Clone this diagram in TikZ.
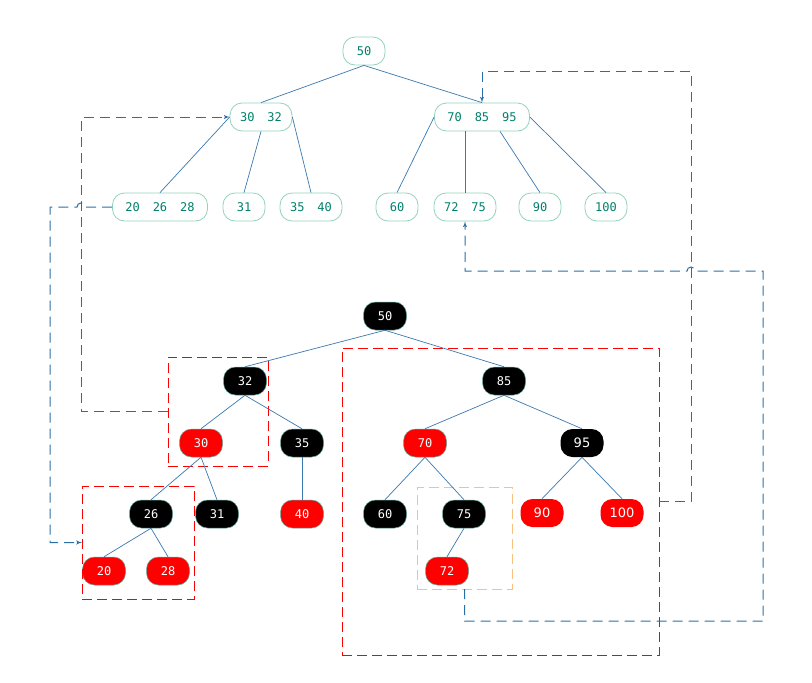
\documentclass[tikz,border=0pt]{standalone}
\usepackage{xcolor}
\usepackage{fontspec}
\setmonofont{DejaVu Sans Mono}
\newfontfamily\widefont{DejaVu Sans}
\usepackage{tikz}
\usetikzlibrary{arrows, positioning}
\definecolor{edgeblue}{HTML}{3A78B0}
\definecolor{linkblue}{HTML}{2A6EA6}
\definecolor{keyteal}{HTML}{007F6A}
\definecolor{keyline}{HTML}{93D3BE}
\definecolor{rbline}{HTML}{62A89A}
\definecolor{boxorange}{HTML}{F8C27E}
\tikzstyle{bnode} = [rectangle, rounded corners=12pt, minimum width=42pt, minimum height=28pt, inner xsep=10pt, draw=keyline, line width=0.8pt, text=keyteal, font=\ttfamily\fontsize{12}{14}\selectfont]
\tikzstyle{blacknode} = [rectangle, rounded corners=12pt, minimum width=43pt, minimum height=28pt, draw=rbline, line width=0.5pt, fill=black, text=white, font=\ttfamily\fontsize{12}{14}\selectfont]
\tikzstyle{rednode} = [blacknode, fill=red]
\tikzstyle{treeline} = [draw, edgeblue, line width=0.7pt]
\tikzstyle{moveline} = [draw, linkblue, line width=1pt, dash pattern=on 10pt off 6pt, -latex']
\tikzstyle{redbox} = [rectangle, draw=red, line width=0.9pt, dash pattern=on 10pt off 5pt, inner sep=0pt, outer sep=0pt]
\newcommand{\keygap}{\hspace{13pt}}

\begin{document}
\begin{tikzpicture}[x=1pt, y=-1pt, node distance=66pt]
    \useasboundingbox (0,0) rectangle (812,683);

    % B-tree nodes
    \node [bnode] (b50) at (364,51) {50};
    \node [bnode, below of=b50, xshift=-103pt] (b3032) {30\keygap 32};
    \node [bnode, below of=b50, xshift=118pt, minimum width=95pt] (b708595) {70\keygap 85\keygap 95};
    \node [bnode, below of=b3032, node distance=90pt, xshift=-101pt, minimum width=95pt] (b202628) {20\keygap 26\keygap 28};
    \node [bnode, below of=b3032, node distance=90pt, xshift=-17pt] (b31) {31};
    \node [bnode, below of=b3032, node distance=90pt, xshift=50pt] (b3540) {35\keygap 40};
    \node [bnode, below of=b708595, node distance=90pt, xshift=-85pt] (b60) {60};
    \node [bnode, below of=b708595, node distance=90pt, xshift=-17pt] (b7275) {72\keygap 75};
    \node [bnode, below of=b708595, node distance=90pt, xshift=58pt] (b90) {90};
    \node [bnode, below of=b708595, node distance=90pt, xshift=124pt] (b100) {100};

    % red-black nodes
    \node [blacknode] (r50) at (385,316) {50};
    \node [blacknode, below of=r50, node distance=65pt, xshift=-140pt] (r32) {32};
    \node [blacknode, below of=r50, node distance=65pt, xshift=119pt] (r85) {85};
    \node [rednode, below of=r32, node distance=62pt, xshift=-44pt] (r30) {30};
    \node [blacknode, below of=r32, node distance=62pt, xshift=57pt] (r35) {35};
    \node [rednode, below of=r85, node distance=62pt, xshift=-79pt] (r70) {70};
    \node [blacknode, below of=r85, node distance=62pt, xshift=78pt, draw=none, font=\widefont\fontsize{13}{15}\selectfont] (r95) {95};
    \node [blacknode, below of=r30, node distance=71pt, xshift=-50pt] (r26) {26};
    \node [blacknode, below of=r30, node distance=71pt, xshift=16pt] (r31) {31};
    \node [rednode, below of=r35, node distance=71pt] (r40) {40};
    \node [blacknode, below of=r70, node distance=71pt, xshift=-40pt] (r60) {60};
    \node [blacknode, below of=r70, node distance=71pt, xshift=39pt] (r75) {75};
    \node [rednode, below of=r95, node distance=70pt, xshift=-40pt, draw=none, font=\widefont\fontsize{13}{15}\selectfont] (r90) {90};
    \node [rednode, below of=r95, node distance=70pt, xshift=40pt, draw=none, font=\widefont\fontsize{13}{15}\selectfont] (r100) {100};
    \node [rednode, below of=r26, node distance=57pt, xshift=-47pt] (r20) {20};
    \node [rednode, below of=r26, node distance=57pt, xshift=17pt] (r28) {28};
    \node [rednode, below of=r75, node distance=57pt, xshift=-17pt] (r72) {72};

    % dashed groups
    \node [redbox, minimum width=100pt, minimum height=109pt] (g3032) at (218,411.5) {};
    \node [redbox, minimum width=112pt, minimum height=113pt] (g202628) at (138,542.5) {};
    \node [redbox, minimum width=317pt, minimum height=307pt] (g708595) at (500.5,501.5) {};
    \node [redbox, draw=boxorange, minimum width=95pt, minimum height=102pt] (g7275) at (464.5,538) {};

    % B-tree edges
    \path [treeline] (b50.south) -- (b3032.north);
    \path [treeline] (b50.south) -- (b708595.north);
    \path [treeline] (b202628.north) -- (b3032.west);
    \path [treeline] (b31.north) -- (b3032.south);
    \path [treeline] (b3540.north) -- (b3032.east);
    \path [treeline] (b60.north) -- (b708595.west);
    \path [treeline] (b7275.north) -- (b7275.north |- b708595.south);
    \path [treeline] (b90.north) -- ([xshift=18pt]b708595.south);
    \path [treeline] (b100.north) -- (b708595.east);

    % red-black edges
    \path [treeline] (r50.south) -- (r32.north);
    \path [treeline] (r50.south) -- (r85.north);
    \path [treeline] (r32.south) -- (r30.north);
    \path [treeline] (r32.south) -- (r35.north);
    \path [treeline] (r85.south) -- (r70.north);
    \path [treeline] (r85.south) -- (r95.north);
    \path [treeline] (r30.south) -- (r26.north);
    \path [treeline] (r30.south) -- (r31.north);
    \path [treeline] (r35.south) -- (r40.north);
    \path [treeline] (r70.south) -- (r60.north);
    \path [treeline] (r70.south) -- (r75.north);
    \path [treeline] (r95.south) -- (r90.north);
    \path [treeline] (r95.south) -- (r100.north);
    \path [treeline] (r26.south) -- (r20.north);
    \path [treeline] (r26.south) -- (r28.north);
    \path [treeline] (r75.south) -- (r72.north);

    % group moves
    \path [moveline] (g3032.west) -- ++(-87pt,0) |- (b3032.west);
    \path [moveline] (b202628.west) -- (85,207) arc[start angle=0, end angle=-180, radius=4] -- (50,207) |- (g202628.west);
    \path [moveline] (g708595.east) -| (691,71) -| (b708595.north);
    \path [moveline] (g7275.south) |- (763,621) |- (695,271) arc[start angle=0, end angle=-180, radius=4] -| (b7275.south);
\end{tikzpicture}
\end{document}
